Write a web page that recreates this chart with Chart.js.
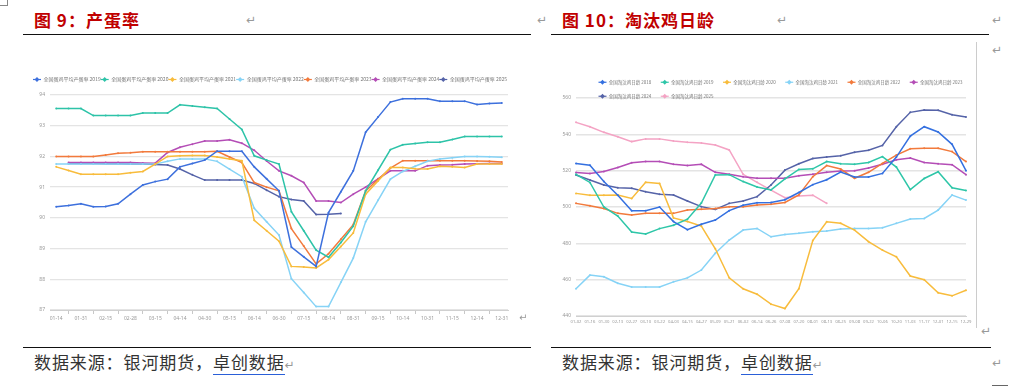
<!DOCTYPE html>
<html><head><meta charset="utf-8">
<script src="https://cdn.jsdelivr.net/npm/chart.js@4.4.1/dist/chart.umd.min.js"></script>
<style>
html,body{margin:0;padding:0;background:#fff;}
body{width:1017px;height:387px;overflow:hidden;position:relative;font-family:"Noto Sans CJK SC","Noto Sans",sans-serif;}
.abs{position:absolute;white-space:nowrap;}
.title{color:#c00000;font-weight:700;font-size:17px;line-height:20px;letter-spacing:1px;}
.rule{position:absolute;height:0;border-top:1.5px solid #111;}
.src{font-size:17px;line-height:20px;color:#333;letter-spacing:0.9px;}
.src u{text-decoration:none;border-bottom:1.5px solid #2a5fd8;}
.ret{color:#999;font-size:12px;line-height:14px;font-family:"DejaVu Sans",sans-serif;letter-spacing:0;}
canvas{position:absolute;}
</style></head>
<body>
<div class="abs" style="left:-2px;top:-4px;width:8px;height:8px;border:1px solid #888;"></div>
<div class="abs title" style="left:34px;top:10px;">图 9：产蛋率</div>
<div class="abs ret" style="left:246px;top:13px;">↵</div>
<div class="abs ret" style="left:537px;top:13px;">↵</div>
<div class="abs title" style="left:562px;top:10px;">图 10：淘汰鸡日龄</div>
<div class="abs ret" style="left:777px;top:13px;">↵</div>
<div class="abs ret" style="left:992px;top:13px;">↵</div>
<div class="abs ret" style="left:992px;top:43px;">↵</div>
<div class="rule" style="left:23px;top:34px;width:508px;"></div>
<div class="rule" style="left:551px;top:34px;width:438px;"></div>
<div class="abs" style="left:976px;top:42px;width:0;height:286px;border-left:1px solid #ccc;"></div>

<canvas id="c1" width="509" height="286" style="left:22px;top:42px;"></canvas>
<canvas id="c2" width="423" height="286" style="left:552px;top:42px;"></canvas>

<div class="abs ret" style="left:519px;top:311px;font-size:10px;">↵</div>
<div class="abs ret" style="left:981px;top:324px;">↵</div>
<div class="rule" style="left:23px;top:347px;width:508px;"></div>
<div class="rule" style="left:551px;top:347px;width:440px;"></div>
<div class="abs src" style="left:34px;top:352px;">数据来源：银河期货，<u>卓创数据</u><span class="ret">↵</span></div>
<div class="abs src" style="left:562px;top:352px;">数据来源：银河期货，<u>卓创数据</u><span class="ret">↵</span></div>
<div class="abs ret" style="left:992px;top:356px;">↵</div>
<div class="abs" style="left:992px;top:385px;width:16px;border-top:1px solid #666;"></div>

<script>
// ---------- Chart 9: 产蛋率 ----------
const eggDates=['01-14','01-22','01-31','02-07','02-15','02-22','02-28','03-07','03-15','03-31','04-14','04-22','04-30','05-07','05-15','05-31','06-14','06-22','06-30','07-07','07-15','07-31','08-14','08-22','08-31','09-07','09-15','09-30','10-14','10-22','10-31','11-07','11-15','11-30','12-14','12-22','12-31'];
const eggYTicks=[87,88,89,90,91,92,93,94];
const eggYears=['2019','2020','2021','2022','2023','2024','2025'];
const egg2019=[90.36,90.4,90.46,90.36,90.37,90.46,90.77,91.07,91.18,91.26,91.66,91.77,91.88,92.17,92.17,92.17,91.66,91.27,90.88,89.05,88.73,88.42,90.17,90.85,91.53,92.79,93.28,93.77,93.88,93.88,93.88,93.8,93.8,93.8,93.69,93.72,93.74];
const egg2020=[93.56,93.56,93.56,93.33,93.33,93.33,93.33,93.41,93.41,93.41,93.68,93.64,93.6,93.56,93.22,92.88,92.02,91.88,91.75,90.2,89.58,88.95,88.72,89.2,89.73,90.88,91.55,92.22,92.38,92.42,92.46,92.46,92.55,92.65,92.65,92.65,92.65];
const egg2021=[91.66,91.54,91.42,91.42,91.42,91.42,91.47,91.51,91.75,92.0,92.02,92.03,92.03,91.98,91.92,91.86,89.92,89.58,89.24,88.42,88.4,88.37,88.64,89.07,89.51,90.77,91.2,91.64,91.64,91.6,91.59,91.68,91.66,91.64,91.75,91.75,91.75];
const egg2022=[91.75,91.75,91.75,91.75,91.75,91.75,91.75,91.75,91.75,91.84,91.92,91.92,91.92,91.84,91.59,91.34,90.31,89.87,89.44,88.02,87.57,87.11,87.11,87.9,88.69,89.87,90.57,91.26,91.51,91.68,91.84,91.92,91.96,92.0,92.0,91.99,91.97];
const egg2023=[92.0,92.0,92.0,92.0,92.05,92.1,92.12,92.15,92.15,92.15,92.15,92.15,92.15,92.17,91.98,91.8,91.15,91.0,90.88,89.65,89.08,88.5,88.83,89.3,89.78,90.88,91.25,91.62,91.86,91.86,91.86,91.86,91.86,91.86,91.85,91.84,91.82];
const egg2024=[null,91.8,91.8,91.8,91.8,91.8,91.8,91.79,91.78,92.13,92.3,92.4,92.5,92.5,92.54,92.43,92.2,91.85,91.53,91.37,91.15,90.55,90.55,90.5,90.77,91.0,91.27,91.53,91.53,91.53,91.7,91.72,91.73,91.75,91.76,91.77,91.77];
const egg2025=[null,91.77,91.77,91.77,91.76,91.76,91.75,91.75,91.74,91.72,91.59,91.4,91.23,91.23,91.23,91.23,91.12,90.9,90.69,90.6,90.55,90.11,90.12,90.14,null,null,null,null,null,null,null,null,null,null,null,null,null];
const eggSeries=[egg2019,egg2020,egg2021,egg2022,egg2023,egg2024,egg2025];
const eggColors=['#3d70dd','#2dc3a8','#f8bc3c','#86d3f6','#f27a3c','#b44db6','#5563a8'];

// ---------- Chart 10: 淘汰鸡日龄 ----------
const ageDates=['01-02','01-16','01-30','02-13','02-27','03-10','03-22','04-03','04-15','04-27','05-09','05-21','06-02','06-14','06-26','07-08','07-20','08-01','08-13','08-25','09-08','09-22','10-06','10-20','11-03','11-17','12-01','12-15','12-29'];
const ageYTicks=[440,460,480,500,520,540,560];
const ageYears=['2018','2019','2020','2021','2022','2023','2024','2025'];
const age2018=[524,523,514,506.5,498,498,500,492,487.5,490.5,492.8,498,501,502.3,502.5,504,508,512.3,515,519.2,516.5,516.5,518.5,527.5,539,544.2,541.3,534.5,520];
const age2019=[518,513.5,500,495,486.2,485.2,488.1,490,493.3,502.2,517.6,517.8,514,511,509.4,515.5,520.7,521,525,523.8,523.6,524.5,527.7,522,509.6,515.7,519.4,510.6,509.1];
const age2020=[507.5,506.5,506.5,506.6,504.7,513.6,513,494,492,489.5,477,461,455,452,446.5,444.1,455,481.5,491.9,491,487.3,480.9,476.3,472.6,462,460,452.8,451.1,454.2];
const age2021=[455,462.5,461.6,458,456,456,456,458.8,461,465.3,474.5,481.8,487.3,488.2,483.6,484.9,485.5,486.4,486.8,487.9,488.2,488.2,488.6,491,493.4,493.7,498.3,506.6,503.8];
const age2022=[502,500.7,499.2,496.5,495.6,496.5,496.5,496.5,498.3,498.8,499.2,500.2,500.2,501.1,501.5,502.5,506.6,516.7,522.8,520.9,515.8,519.1,524,528.6,532,532.3,532.3,530.5,525];
const age2023=[519,518.5,519.5,521.7,524.4,525,525,523.5,522.8,523.5,519.1,518,516.7,515.8,515.8,515.8,517.2,518,519.1,519.8,520,521.5,523.5,526,527,524.5,523.8,523.3,517.8];
const age2024=[517.6,514.9,512.1,510.6,510.3,508.4,507,506.6,503.3,500.2,498.7,502,503.3,505.7,512.1,520.3,523.8,526.7,527.5,528.2,530.1,531.2,533.9,544.2,552.1,553.4,553.2,550.8,549.6];
const age2025=[546.6,544.2,541.1,538.7,536,537.5,537.5,536.3,535.6,535.2,534.1,531.4,518,513.6,509.3,505.1,506,506.5,502,null,null,null,null,null,null,null,null,null,null];
const ageSeries=[age2018,age2019,age2020,age2021,age2022,age2023,age2024,age2025];
const ageColors=['#3470e0','#2ec6a8','#f8bc3c','#86d3f6','#f27a3c','#b44db6','#5563a8','#f4a3c4'];

// ---------- helpers ----------
const legendIcons={id:'legendIcons',afterDraw(chart){
  const lg=chart.legend; if(!lg||!lg.legendHitBoxes) return;
  const ctx=chart.ctx; const bw=lg.options.labels.boxWidth;
  ctx.save();
  lg.legendHitBoxes.forEach((hb,i)=>{
    const col=chart.data.datasets[i].borderColor;
    const cx=hb.left+bw/2, cy=hb.top+hb.height/2;
    ctx.strokeStyle=col; ctx.lineWidth=1.2;
    ctx.beginPath(); ctx.moveTo(cx-4,cy); ctx.lineTo(cx+4,cy); ctx.stroke();
    ctx.fillStyle=col; ctx.beginPath();
    ctx.moveTo(cx,cy-2.4); ctx.lineTo(cx+2.4,cy); ctx.lineTo(cx,cy+2.4); ctx.lineTo(cx-2.4,cy); ctx.closePath(); ctx.fill();
  });
  ctx.restore();
}};
const legendPos={id:'legendPos',afterLayout(chart,args,opts){
  const l=chart.legend; if(!l) return;
  if(opts.dx){l.left+=opts.dx;l.right+=opts.dx;}
  if(opts.dy){l.top+=opts.dy;l.bottom+=opts.dy;}
}};
function genLabels(chart){
  return chart.data.datasets.map((d,i)=>({text:d.label,fillStyle:'rgba(0,0,0,0)',strokeStyle:'rgba(0,0,0,0)',lineWidth:0,hidden:false,datasetIndex:i,fontColor:'#777'}));
}
function makeSets(series,colors,names){
  return series.map((s,i)=>({label:names[i],data:s,borderColor:colors[i],backgroundColor:colors[i],borderWidth:1.5,pointRadius:1,pointHoverRadius:1,pointBorderWidth:0,tension:0,fill:false}));
}
const tickFont={family:'"Noto Sans",sans-serif',size:5};
const tickFontSmall={family:'"Noto Sans",sans-serif',size:4.2};

new Chart(document.getElementById('c1'),{
  type:'line',
  data:{labels:eggDates,datasets:makeSets(eggSeries,eggColors,eggYears.map(y=>'全国蛋鸡平均产蛋率 '+y))},
  plugins:[legendPos,legendIcons],
  options:{
    responsive:false,animation:false,events:[],
    layout:{padding:{top:38,right:23,bottom:4,left:0}},
    plugins:{
      tooltip:{enabled:false},
      legendPos:{dx:5,dy:-3},
      legend:{display:true,position:'top',align:'center',labels:{font:{family:'"Noto Sans CJK SC",sans-serif',size:5},color:'#777',boxWidth:8,boxHeight:5,padding:0,generateLabels:genLabels}}
    },
    scales:{
      x:{type:'category',offset:true,
         grid:{drawOnChartArea:false,tickLength:4,color:(c)=>c.index%2?'#c8c8c8':'rgba(0,0,0,0)'},
         border:{color:'#d0d0d0'},
         ticks:{autoSkip:false,maxRotation:0,minRotation:0,font:tickFont,color:'#999',padding:2,callback:(v,i)=>i%2?'':eggDates[i]},
         afterFit:(s)=>{s.height=14;}},
      y:{min:87,max:94,afterBuildTicks:(s)=>{s.ticks=eggYTicks.map(v=>({value:v}));},
         grid:{color:'#e4e4e4',lineWidth:1.3,drawTicks:false},border:{display:false},
         ticks:{font:tickFont,color:'#999',padding:5},
         afterFit:(s)=>{s.width=28;}}
    }
  }
});

new Chart(document.getElementById('c2'),{
  type:'line',
  data:{labels:ageDates,datasets:makeSets(ageSeries,ageColors,ageYears.map(y=>'全国淘汰鸡日龄 '+y))},
  plugins:[legendPos,legendIcons],
  options:{
    responsive:false,animation:false,events:[],
    layout:{padding:{top:18,right:9,bottom:2,left:0}},
    plugins:{
      tooltip:{enabled:false},
      legendPos:{dx:37,dy:10.5},
      legend:{display:true,position:'top',align:'start',labels:{font:{family:'"Noto Sans CJK SC",sans-serif',size:4.5},color:'#777',boxWidth:8,boxHeight:4.5,padding:9.5,generateLabels:genLabels}}
    },
    scales:{
      x:{type:'category',offset:false,
         grid:{drawOnChartArea:false,drawTicks:false},
         border:{color:'#d0d0d0'},
         ticks:{autoSkip:false,maxRotation:0,minRotation:0,font:tickFontSmall,color:'#999',padding:3},
         afterFit:(s)=>{s.height=10;}},
      y:{min:440,max:560,afterBuildTicks:(s)=>{s.ticks=ageYTicks.map(v=>({value:v}));},
         grid:{color:'#e4e4e4',lineWidth:1.5,drawTicks:false},border:{display:false},
         ticks:{font:tickFont,color:'#999',padding:5},
         afterFit:(s)=>{s.width=24;}}
    }
  }
});
</script>
</body></html>
